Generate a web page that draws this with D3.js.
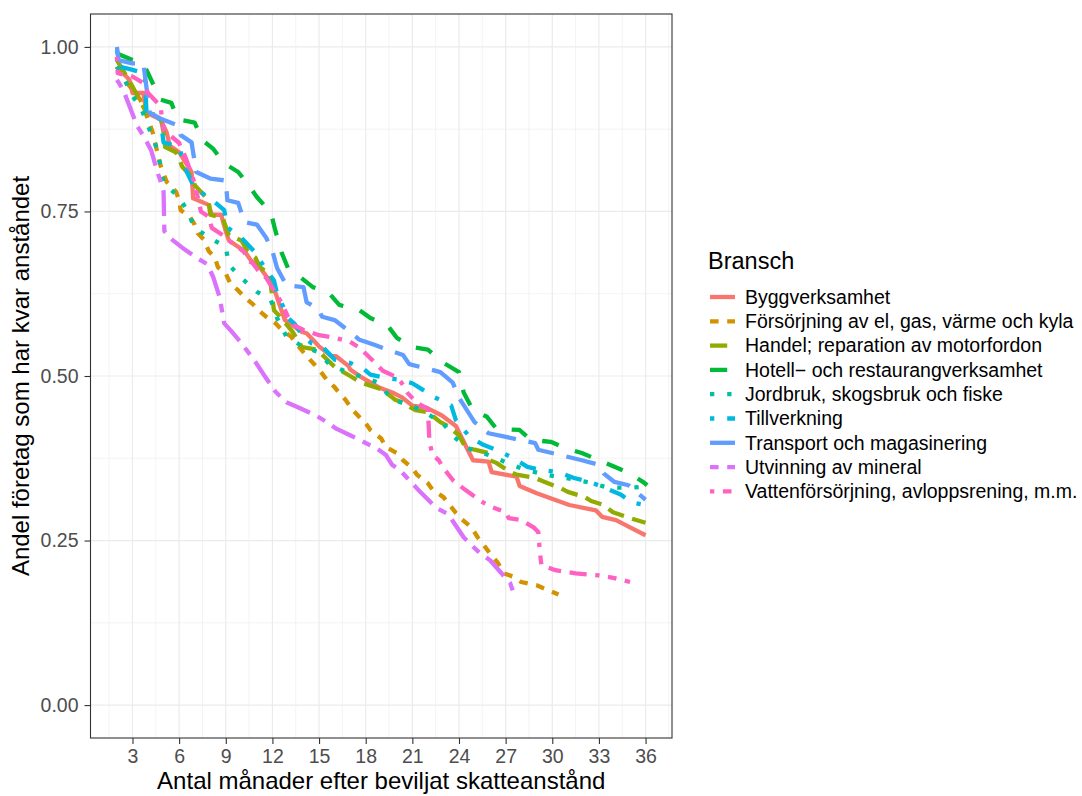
<!DOCTYPE html>
<html><head><meta charset="utf-8">
<script src="https://cdn.jsdelivr.net/npm/d3@7"></script>
<style>body{margin:0;background:#fff}svg{display:block}text{font-family:"Liberation Sans",Arial,sans-serif}</style>
</head><body>
<svg id="c" width="1082" height="796"></svg>
<script>
// ---- data (months after granted deferral, share of firms still holding deferral) ----
const categories = ["Byggverksamhet","Försörjning av el, gas, värme och kyla","Handel; reparation av motorfordon","Hotell\u2212 och restaurangverksamhet","Jordbruk, skogsbruk och fiske","Tillverkning","Transport och magasinering","Utvinning av mineral","Vattenförsörjning, avloppsrening, m.m."];
const colors = ["#F8766D","#D39200","#93AA00","#00BA38","#00C19F","#00B9E3","#619CFF","#DB72FB","#FF61C3"];
const linetypes = ["solid","22","42","44","13","1343","73","2262","12223242"];
const xTicks = [3,6,9,12,15,18,21,24,27,30,33,36];
const yTicks = [0,0.25,0.5,0.75,1];
const xTitle = "Antal månader efter beviljat skatteanstånd";
const yTitle = "Andel företag som har kvar anståndet";
const legendTitle = "Bransch";

const bygg = [[2,0.97],[2.8,0.95],[3,0.93],[3.7,0.93],[3.9,0.90],[4.8,0.89],[5.2,0.87],[5.4,0.85],[6,0.84],[6.8,0.81],[6.9,0.77],[7.9,0.76],[8.1,0.745],[8.7,0.745],[9,0.72],[9.2,0.706],[10.2,0.69],[10.6,0.676],[11.2,0.665],[11.8,0.645],[12.2,0.626],[12.8,0.585],[13.1,0.58],[13.9,0.567],[14.2,0.565],[14.8,0.55],[15,0.545],[15.8,0.53],[16.1,0.53],[16.9,0.515],[17,0.51],[17.8,0.497],[18.9,0.482],[19.8,0.474],[20.3,0.468],[21,0.455],[21.9,0.452],[22.9,0.44],[23.8,0.424],[24.9,0.372],[25.9,0.37],[26.1,0.354],[27.7,0.347],[27.9,0.333],[29,0.322],[29.8,0.315],[31.1,0.304],[32.8,0.296],[33.2,0.286],[34.1,0.281],[35,0.27],[36,0.258]];
const forsorjning = [[2,0.97],[2.5,0.95],[3,0.935],[3.5,0.92],[4,0.89],[4.3,0.87],[4.5,0.85],[4.8,0.82],[5.2,0.795],[5.8,0.78],[6,0.767],[6.1,0.752],[6.7,0.742],[7,0.73],[7.2,0.717],[7.6,0.707],[7.9,0.69],[8.3,0.68],[8.5,0.665],[9,0.656],[9.3,0.64],[9.8,0.63],[10.2,0.62],[10.7,0.61],[11.2,0.598],[11.6,0.59],[12.2,0.58],[12.6,0.57],[13.2,0.56],[13.5,0.55],[14.4,0.525],[15,0.51],[15.5,0.494],[16,0.483],[16.3,0.474],[16.7,0.464],[17.1,0.45],[17.5,0.44],[18,0.428],[18.3,0.418],[19,0.405],[19.3,0.392],[20,0.383],[20.4,0.372],[21,0.36],[21.3,0.35],[22,0.337],[22.3,0.327],[23,0.316],[23.3,0.307],[23.8,0.292],[24.2,0.282],[24.8,0.27],[25.2,0.255],[25.6,0.243],[26,0.23],[26.5,0.216],[26.9,0.2],[27.5,0.195],[28,0.187],[29,0.182],[29.6,0.176],[30.4,0.168]];
const handel = [[2,0.98],[3,0.94],[3.9,0.9],[4.8,0.895],[5,0.87],[5.1,0.848],[5.8,0.84],[6,0.83],[6.2,0.818],[6.9,0.8],[7,0.79],[7.9,0.767],[8,0.745],[8.8,0.74],[9.2,0.714],[10,0.706],[10.4,0.69],[10.9,0.68],[11.2,0.665],[11.8,0.656],[12.1,0.6],[12.5,0.59],[13.3,0.567],[13.9,0.544],[14.9,0.54],[15.3,0.53],[16,0.514],[17,0.5],[17.7,0.49],[19,0.48],[19.9,0.464],[20.3,0.46],[21.2,0.448],[22,0.445],[22.8,0.43],[23.2,0.425],[24,0.41],[24.4,0.392],[25,0.388],[25.9,0.383],[26,0.372],[26.4,0.368],[27.3,0.354],[27.7,0.35],[28.9,0.345],[29.4,0.34],[30.5,0.33],[31,0.324],[32.1,0.316],[32.5,0.31],[33.3,0.304],[33.9,0.293],[35,0.284],[36,0.277]];
const hotell = [[2,0.99],[2.5,0.985],[3,0.98],[3.7,0.975],[4,0.96],[4.4,0.94],[4.8,0.92],[5.5,0.915],[5.9,0.89],[7,0.885],[7.5,0.858],[8.2,0.845],[8.9,0.823],[9.8,0.81],[10.3,0.795],[11,0.772],[11.9,0.748],[12.2,0.72],[12.6,0.687],[13,0.664],[13.8,0.65],[14.6,0.635],[15.6,0.627],[16.3,0.608],[17.6,0.6],[18.3,0.588],[19.4,0.577],[20,0.558],[21,0.544],[22,0.54],[23,0.52],[24,0.506],[24.3,0.475],[24.9,0.448],[25.8,0.438],[26.4,0.42],[27.9,0.418],[28.6,0.403],[29.9,0.4],[30.9,0.39],[31.9,0.383],[33,0.372],[34,0.362],[35,0.352],[35.9,0.338],[36.1,0.334]];
const jordbruk = [[2,0.97],[2.5,0.95],[3,0.925],[3.5,0.91],[4,0.88],[4.5,0.85],[4.8,0.82],[5,0.793],[6,0.772],[6.5,0.752],[7,0.725],[7.9,0.711],[9,0.696],[9.2,0.669],[10,0.649],[11,0.628],[11.9,0.615],[12.3,0.588],[12.9,0.56],[14,0.544],[14.9,0.537],[15.7,0.517],[16.8,0.506],[18,0.497],[18.8,0.49],[19.7,0.464],[20.9,0.456],[22.9,0.43],[23.7,0.407],[24.6,0.39],[25.9,0.38],[27.1,0.368],[28.3,0.357],[29.6,0.35],[30.9,0.345],[32.2,0.339],[33.5,0.331],[34.8,0.33],[36,0.332]];
const tillverkning = [[2,0.995],[2.2,0.97],[3,0.965],[3.8,0.96],[3.9,0.9],[4.8,0.89],[5,0.855],[6,0.848],[6.5,0.81],[7,0.785],[8,0.77],[8.9,0.752],[9.1,0.726],[10,0.71],[10.8,0.69],[11.5,0.665],[12.1,0.645],[12.3,0.625],[12.7,0.605],[13,0.588],[13.4,0.58],[14,0.56],[14.5,0.55],[15.2,0.545],[16,0.525],[17,0.52],[17.9,0.51],[18.3,0.502],[19.3,0.497],[20,0.495],[21,0.489],[21.6,0.48],[22.4,0.468],[23.5,0.455],[23.8,0.433],[24.7,0.407],[25.6,0.395],[26.5,0.387],[27.5,0.375],[28.4,0.362],[29.1,0.358],[30.4,0.354],[31.4,0.345],[32.4,0.339],[33.3,0.331],[34.4,0.32],[35.1,0.308],[36,0.304]];
const transport = [[2,1.0],[2.1,0.98],[3,0.975],[3.7,0.975],[4,0.92],[4.1,0.9],[4.9,0.89],[6,0.88],[6.1,0.866],[6.8,0.855],[7.1,0.81],[8,0.8],[9,0.797],[9.1,0.767],[9.8,0.763],[10.2,0.734],[11,0.73],[11.6,0.71],[12,0.69],[12.3,0.664],[12.9,0.638],[14,0.635],[14.2,0.612],[14.9,0.603],[15.2,0.59],[16,0.585],[17,0.567],[17.6,0.555],[18.6,0.547],[19.4,0.54],[20.4,0.532],[20.8,0.518],[21.8,0.512],[22.8,0.506],[23.6,0.49],[24,0.467],[25,0.43],[25.9,0.413],[27.9,0.403],[28.9,0.398],[29.1,0.388],[30.5,0.38],[31.9,0.372],[33,0.365],[33.3,0.352],[34,0.339],[34.9,0.334],[35.5,0.322],[36,0.312]];
const utvinning = [[2,0.95],[2.4,0.935],[3.3,0.88],[3.7,0.865],[4.2,0.843],[4.6,0.81],[4.9,0.79],[5,0.78],[5.05,0.72],[5.4,0.71],[6.2,0.695],[7.1,0.68],[7.8,0.67],[8.2,0.65],[8.6,0.62],[8.9,0.58],[9.4,0.567],[10,0.55],[10.8,0.525],[11.5,0.5],[12.2,0.476],[12.9,0.46],[13.6,0.453],[14.8,0.44],[15.5,0.43],[16.1,0.42],[17,0.41],[18.7,0.39],[19.3,0.38],[19.7,0.365],[20.2,0.357],[21.5,0.324],[22.1,0.31],[22.5,0.3],[23.3,0.29],[24.3,0.255],[24.8,0.243],[25.3,0.232],[26,0.22],[27.3,0.185],[27.6,0.164]];
const vatten = [[2,0.985],[2.05,0.96],[3,0.955],[3.7,0.945],[4,0.93],[4.8,0.91],[5,0.874],[5.6,0.862],[6,0.854],[6.4,0.833],[7,0.793],[7.4,0.75],[7.9,0.742],[8.1,0.725],[8.8,0.714],[9.2,0.706],[10.2,0.688],[10.4,0.676],[10.7,0.672],[11.1,0.66],[11.6,0.649],[12,0.634],[12.5,0.615],[13,0.59],[13.4,0.577],[14,0.57],[15,0.562],[16,0.558],[17,0.552],[17.6,0.543],[18.6,0.52],[19.1,0.508],[20,0.498],[20.3,0.49],[20.7,0.474],[21.3,0.459],[22,0.45],[22.1,0.4],[22.3,0.38],[22.7,0.372],[23,0.36],[23.6,0.342],[24.4,0.327],[25.4,0.31],[26,0.302],[27,0.293],[27.2,0.284],[28,0.281],[28.8,0.27],[29.1,0.263],[29.2,0.233],[29.3,0.213],[30.2,0.205],[31.5,0.2],[33,0.197],[34,0.193],[35,0.187]];
const seriesData = [bygg, forsorjning, handel, hotell, jordbruk, tillverkning, transport, utvinning, vatten];

// ---- layout ----
const W = 1082, H = 796;
const P = {l: 90.5, r: 672, t: 14, b: 738};
const LW = 4.3;
const svg = d3.select("#c");

const x = d3.scaleLinear().domain([0.3, 37.7]).range([P.l, P.r]);
const y = d3.scaleLinear().domain([-0.05, 1.05]).range([P.b, P.t]);

function dash(lt){ if(lt==="solid") return null; return lt.split("").map(c=>parseInt(c,16)*LW).join(","); }

// background + grid
svg.append("rect").attr("x",P.l).attr("y",P.t).attr("width",P.r-P.l).attr("height",P.b-P.t).attr("fill","#fff");
const g = svg.append("g");
const xMinor = d3.range(1.5, 37.7, 3);
const yMinor = [0.125,0.375,0.625,0.875];
g.selectAll(".xm").data(xMinor).join("line").attr("x1",d=>x(d)).attr("x2",d=>x(d)).attr("y1",P.t).attr("y2",P.b).attr("stroke","#EBEBEB").attr("stroke-width",0.6);
g.selectAll(".ym").data(yMinor).join("line").attr("y1",d=>y(d)).attr("y2",d=>y(d)).attr("x1",P.l).attr("x2",P.r).attr("stroke","#EBEBEB").attr("stroke-width",0.6);
g.selectAll(".xM").data(xTicks).join("line").attr("x1",d=>x(d)).attr("x2",d=>x(d)).attr("y1",P.t).attr("y2",P.b).attr("stroke","#EBEBEB").attr("stroke-width",1.2);
g.selectAll(".yM").data(yTicks).join("line").attr("y1",d=>y(d)).attr("y2",d=>y(d)).attr("x1",P.l).attr("x2",P.r).attr("stroke","#EBEBEB").attr("stroke-width",1.2);

// lines
const line = d3.line().x(d=>x(d[0])).y(d=>y(d[1]));
svg.append("clipPath").attr("id","pc").append("rect").attr("x",P.l).attr("y",P.t).attr("width",P.r-P.l).attr("height",P.b-P.t);
const lg = svg.append("g").attr("clip-path","url(#pc)");
seriesData.forEach((s,i)=>{
  lg.append("path").attr("d",line(s)).attr("fill","none").attr("stroke",colors[i]).attr("stroke-width",LW)
    .attr("stroke-dasharray",dash(linetypes[i])).attr("stroke-linejoin","round").attr("stroke-linecap","butt");
});

// border
svg.append("rect").attr("x",P.l).attr("y",P.t).attr("width",P.r-P.l).attr("height",P.b-P.t).attr("fill","none").attr("stroke","#333333").attr("stroke-width",1.1);

// axes
const xa = svg.append("g").attr("transform",`translate(0,${P.b})`).call(d3.axisBottom(x).tickValues(xTicks).tickSize(6).tickPadding(5).tickFormat(d3.format("d")));
const ya = svg.append("g").attr("transform",`translate(${P.l},0)`).call(d3.axisLeft(y).tickValues(yTicks).tickSize(6).tickPadding(6).tickFormat(d3.format(".2f")));
[xa,ya].forEach(a=>{
  a.select(".domain").remove();
  a.selectAll(".tick line").attr("stroke","#333333").attr("stroke-width",1.1);
  a.selectAll(".tick text").attr("fill","#4D4D4D").style("font-size","19.5px").style("font-family","'Liberation Sans',Arial,sans-serif");
});

// axis titles
svg.append("text").attr("x",(P.l+P.r)/2).attr("y",789).attr("text-anchor","middle").style("font-size","24px").attr("fill","#000").text(xTitle);
svg.append("text").attr("transform",`translate(29,${(P.t+P.b)/2}) rotate(-90)`).attr("text-anchor","middle").style("font-size","24px").attr("fill","#000").text(yTitle);

// legend
const L = {x: 708, y0: 297, step: 24.3};
svg.append("text").attr("x",L.x).attr("y",269).style("font-size","23.5px").attr("fill","#000").text(legendTitle);
categories.forEach((c,i)=>{
  const yy = L.y0 + i*L.step;
  svg.append("line").attr("x1",710).attr("x2",735).attr("y1",yy).attr("y2",yy).attr("stroke",colors[i]).attr("stroke-width",LW)
    .attr("stroke-dasharray",dash(linetypes[i])).attr("stroke-linecap","butt");
  svg.append("text").attr("x",745).attr("y",yy).attr("dy","0.35em").style("font-size","19.5px").attr("fill","#000").text(c);
});
</script>
</body></html>
